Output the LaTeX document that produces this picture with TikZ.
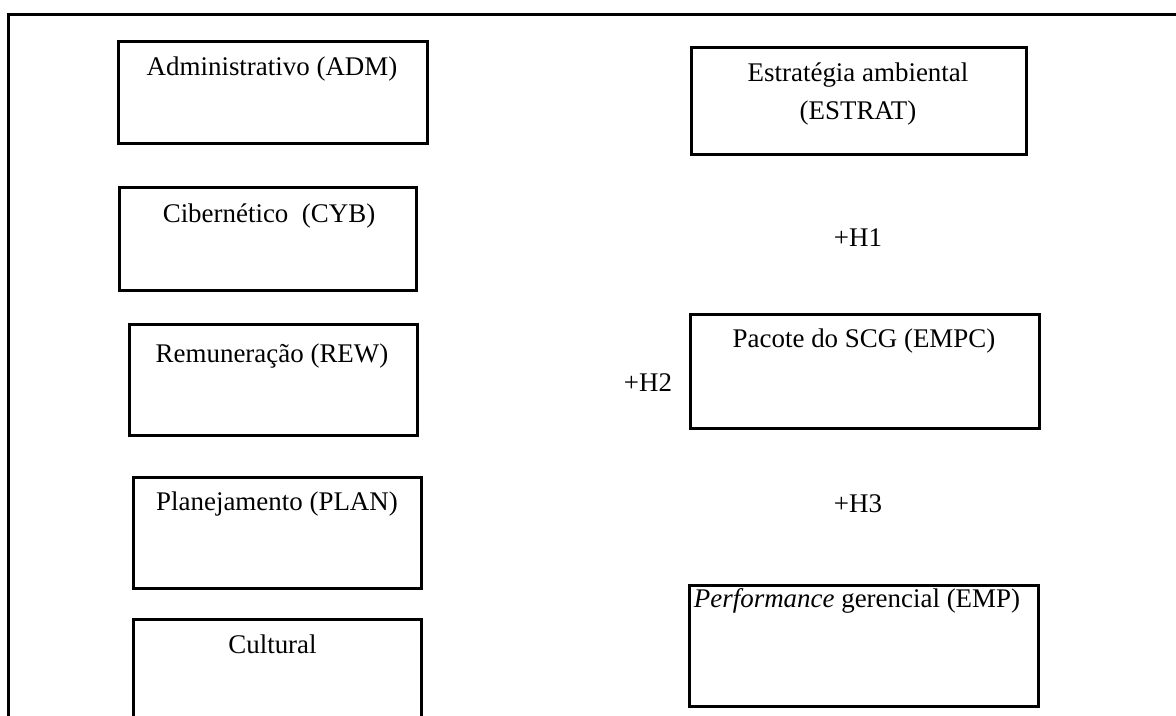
\documentclass[tikz,border=0pt]{standalone}
\usepackage{fontspec}
\setmainfont{Liberation Serif}
\usetikzlibrary{fit}
\tikzset{
  box/.style={draw, line width=2.2pt, inner sep=0pt},
  txt/.style={inner sep=0pt, anchor=base, font=\fontsize{20.2}{24}\selectfont},
  frameline/.style={line width=2.4pt}
}
\begin{document}
\begin{tikzpicture}[x=0.75pt, y=-0.75pt]
\useasboundingbox (0,0) rectangle (1176,715);
% outer frame (partly visible)
\coordinate (fbl) at (8.5,730);
\coordinate (ftl) at (8.5,14.5);
\coordinate (ftr) at (1190,14.5);
\draw[frameline] (fbl) -- (ftl) -- (ftr);
% left column
\node[box, fit={(118.5,41.5) (427.5,143.5)}] (adm) {};
\node[txt] (admt) at (272,75) {Administrativo (ADM)};
\node[box, fit={(119.5,187.5) (416.5,290.5)}] (cyb) {};
\node[txt] (cybt) at (269,222) {Cibernético\ \ (CYB)};
\node[box, fit={(129.5,324.5) (417.5,435.5)}] (rew) {};
\node[txt] (rewt) at (272,362) {Remuneração (REW)};
\node[box, fit={(133.5,477.5) (421.5,588.5)}] (plan) {};
\node[txt] (plant) at (277,510) {Planejamento (PLAN)};
\node[box, fit={(133.5,619.5) (421.5,740)}] (cult) {};
\node[txt] (cultt) at (272.5,653) {Cultural};
% right column
\node[box, fit={(691.5,47.5) (1026.5,154.5)}] (estrat) {};
\node[txt] (estratt1) at (858,81) {Estratégia ambiental};
\node[txt] (estratt2) at (858,119) {(ESTRAT)};
\node[txt] (h1) at (858,246) {+H1};
\node[box, fit={(690.5,314.5) (1039.5,428.5)}] (empc) {};
\node[txt] (empct) at (864,347) {Pacote do SCG (EMPC)};
\node[txt] (h2) at (648,391) {+H2};
\node[txt] (h3) at (858,512) {+H3};
\node[box, fit={(689.5,585.5) (1038.5,706.5)}] (emp) {};
\node[txt] (empt) at (857,607) {\textit{Performance} gerencial (EMP)};
\end{tikzpicture}
\end{document}
